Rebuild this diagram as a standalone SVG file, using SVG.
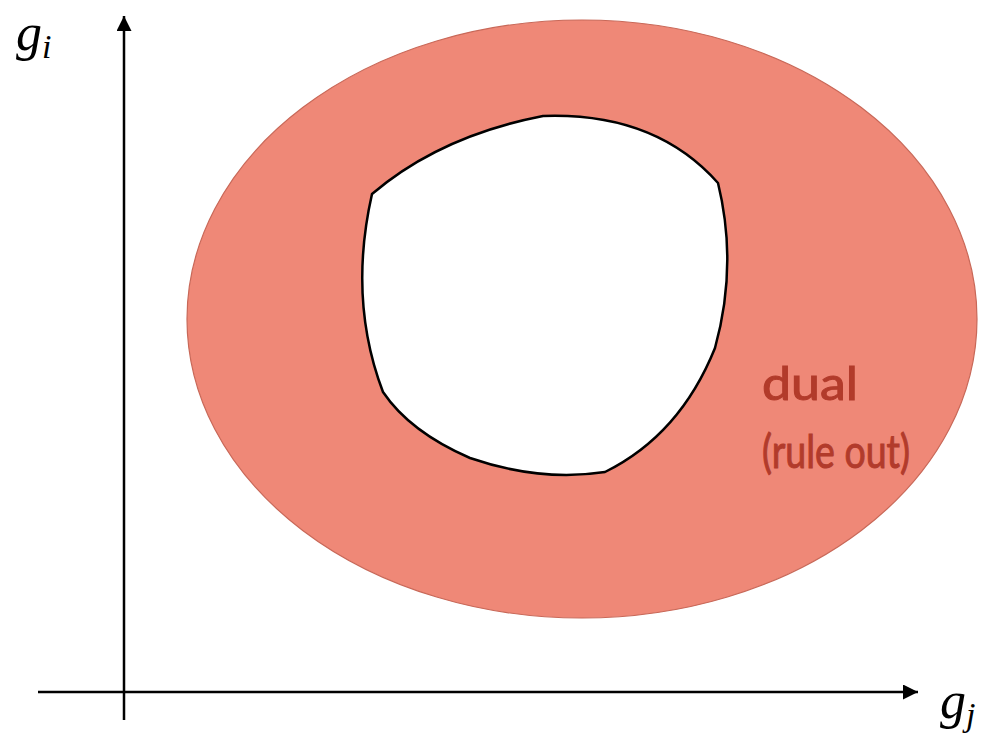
<svg xmlns="http://www.w3.org/2000/svg" width="992" height="738" viewBox="0 0 992 738">
<style>
.axis{stroke:#000;stroke-width:2.5;fill:none}
.lbl{font-family:"Liberation Serif",serif;font-style:italic;fill:#000}
.red{font-family:Lato,"Liberation Sans",sans-serif;fill:#b23b2b;stroke:#b23b2b;stroke-width:1;font-size:46px}
</style>
<defs>
<marker id="ah" viewBox="0 0 10 10" refX="10" refY="5" markerWidth="6" markerHeight="6" markerUnits="strokeWidth" orient="auto">
<path d="M0,0 L10,5 L0,10 z" fill="#000"/>
</marker>
</defs>
<rect width="992" height="738" fill="#fff"/>
<g id="dual-region">
<ellipse cx="582" cy="319" rx="395" ry="299" fill="#ef8877" stroke="#c86858" stroke-width="1.2"/>
</g>
<g id="primal-region">
<path d="M372,194 Q440,136 543,116 Q655,112 718,183 Q738,265 715,348 Q680,435 605,472 Q540,482 470,458 Q410,432 383,392 Q348,300 372,194 Z" fill="#fff" stroke="#000" stroke-width="2.5" stroke-linejoin="round"/>
</g>
<g id="connectors">
<line class="axis" x1="124" y1="720" x2="124" y2="16" marker-end="url(#ah)"/>
<line class="axis" x1="38" y1="692" x2="918" y2="692" marker-end="url(#ah)"/>
</g>
<g id="labels">
<text class="lbl" x="16" y="50" font-size="52">g<tspan font-size="34" dy="8">i</tspan></text>
<text class="lbl" x="940" y="718" font-size="52">g<tspan font-size="34" dy="8">j</tspan></text>
<text class="red" x="762" y="400" textLength="96" lengthAdjust="spacingAndGlyphs">dual</text>
<text class="red" x="762" y="468" font-size="43" textLength="148" lengthAdjust="spacingAndGlyphs">(rule out)</text>
</g>
</svg>
